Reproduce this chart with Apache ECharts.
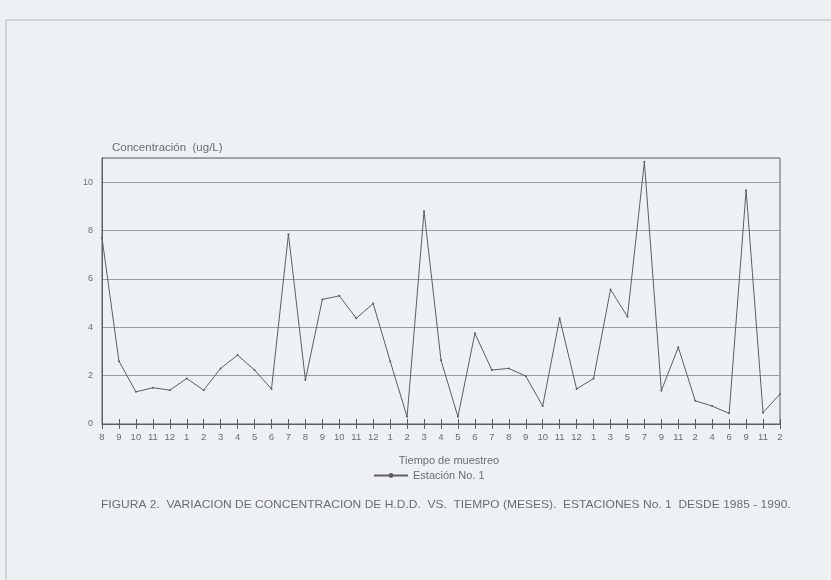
<!DOCTYPE html>
<html>
<head>
<meta charset="utf-8">
<title>Variación de concentración de H.D.D. vs. tiempo</title>
<script src="https://cdn.jsdelivr.net/npm/echarts@6/dist/echarts.min.js"></script>
<style>
  html, body { margin: 0; padding: 0; background: #eef1f4; }
  #chart { width: 831px; height: 580px; }
</style>
</head>
<body>
<div id="chart"></div>
<script>
// Sampling months, Estación No. 1 (1985 - 1990)
const months = ['8','9','10','11','12','1','2','3','4','5','6','7','8','9','10','11','12',
  '1','2','3','4','5','6','7','8','9','10','11','12','1','3','5','7','9','11','2','4','6','9','11','2'];

// Concentración (ug/L) per sample
const estacion1 = [7.7, 2.6, 1.33, 1.5, 1.4, 1.88, 1.4, 2.3, 2.85, 2.23, 1.45, 7.85, 1.82, 5.15, 5.3,
  4.37, 4.98, 2.6, 0.3, 8.8, 2.64, 0.3, 3.75, 2.23, 2.3, 1.98, 0.74, 4.37, 1.45, 1.88, 5.56,
  4.44, 10.84, 1.38, 3.17, 0.96, 0.74, 0.44, 9.67, 0.47, 1.24];

const yTicks = { min: 0, max: 11, interval: 2 };

const FONT = "'Liberation Sans', Arial, sans-serif";
const INK = '#6a6d70';
const LINE = '#5c5f62';
const GRID = '#9a9da0';

const chart = echarts.init(document.getElementById('chart'));
chart.setOption({
  backgroundColor: '#eef1f4',
  animation: false,
  textStyle: { fontFamily: FONT, color: INK },
  legend: {
    left: 368,
    top: 465,
    itemWidth: 34,
    itemHeight: 6,
    itemGap: 7,
    textStyle: { fontFamily: FONT, fontSize: 11, color: INK },
    data: ['Estación No. 1']
  },
  grid: {
    left: 102,
    right: 51,
    top: 158,
    bottom: 156,
    show: true,
    borderColor: LINE,
    borderWidth: 1,
    backgroundColor: 'transparent'
  },
  xAxis: [
    {
      type: 'category',
      position: 'bottom',
      data: months,
      boundaryGap: false,
      name: 'Tiempo de muestreo',
      nameLocation: 'middle',
      nameGap: 31,
      nameTextStyle: { fontFamily: FONT, fontSize: 11, color: INK, padding: [0, 0, 0, 16] },
      axisLine: { lineStyle: { color: LINE, width: 1 } },
      axisTick: { show: true, length: 5, alignWithLabel: true, interval: 0, lineStyle: { color: LINE } },
      axisLabel: { interval: 0, fontFamily: FONT, fontSize: 9.5, color: INK, margin: 8 },
      splitLine: { show: false }
    },
    {
      // inner half of the cross-shaped ticks
      type: 'category',
      position: 'bottom',
      data: months,
      boundaryGap: false,
      axisLine: { show: false },
      axisTick: { show: true, inside: true, length: 5, interval: 0, lineStyle: { color: LINE } },
      axisLabel: { show: false },
      splitLine: { show: false }
    }
  ],
  yAxis: {
    type: 'value',
    min: yTicks.min,
    max: yTicks.max,
    interval: yTicks.interval,
    name: 'Concentración  (ug/L)',
    nameLocation: 'end',
    nameGap: 4,
    nameTextStyle: { fontFamily: FONT, fontSize: 11.5, color: INK, align: 'left', padding: [0, 0, 0, 10] },
    axisLine: { show: true, lineStyle: { color: LINE, width: 1 } },
    axisTick: { show: false },
    axisLabel: { showMaxLabel: false, fontFamily: FONT, fontSize: 9, color: INK, margin: 9 },
    splitLine: { show: true, lineStyle: { color: GRID, width: 1 } }
  },
  series: [
    {
      name: 'Estación No. 1',
      type: 'line',
      xAxisIndex: 0,
      data: estacion1,
      symbol: 'circle',
      symbolSize: 2,
      itemStyle: { color: LINE },
      lineStyle: { color: LINE, width: 1 }
    }
  ],
  graphic: [
    {
      // page frame
      type: 'polyline',
      shape: { points: [[6, 580], [6, 20], [831, 20]] },
      style: { stroke: '#b4b8bc', lineWidth: 1, fill: null }
    },
    {
      // figure caption, widely set
      type: 'text',
      x: 101,
      y: 500,
      scaleX: 1.145,
      style: {
        text: 'FIGURA 2.  VARIACION DE CONCENTRACION DE H.D.D.  VS.  TIEMPO (MESES).  ESTACIONES No. 1  DESDE 1985 - 1990.',
        font: "10.5px 'Liberation Sans', Arial, sans-serif",
        fill: INK
      }
    }
  ]
});
</script>
</body>
</html>
